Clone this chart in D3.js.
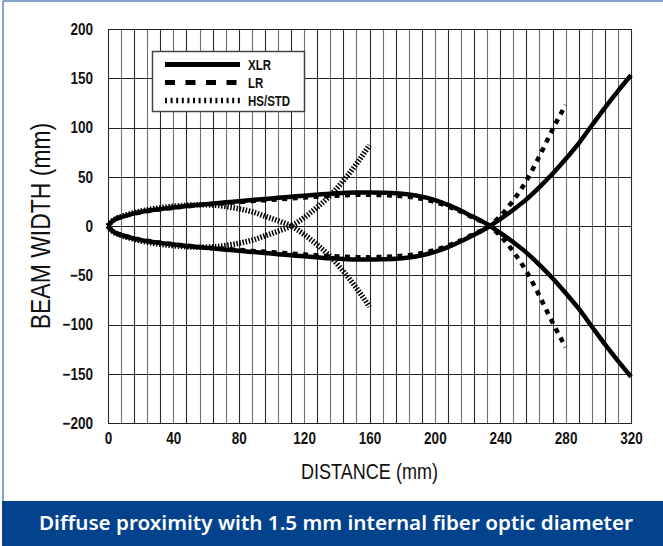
<!DOCTYPE html>
<html><head><meta charset="utf-8">
<script src="https://cdn.jsdelivr.net/npm/d3@7"></script>
<style>
html,body{margin:0;padding:0;background:#fff;}
svg{display:block;}
</style></head>
<body>
<svg id="chart" width="663" height="546"></svg>
<script>
// ---- data ----
const xlrX = [0,2,4,8,16,24,32,40,48,56,64,72,80,88,96,104,112,120,128,136,144,152,160,168,176,184,192,200,208,216,224,232,240,248,256,264,272,280,288,296,304,312,320];
const xlrY = [0,4,6.5,9,12.8,15.5,17.2,18.8,20.2,21.6,22.8,24,25.2,26.3,27.4,28.6,29.7,30.8,31.8,32.8,33.5,34,34,33.8,33.3,32,29.8,26.3,21.5,15.5,8.8,1.8,-7,-16.5,-27,-39.5,-53,-68,-84,-102,-120,-137,-153];
const lrX = [0,2,4,8,16,24,32,40,48,56,64,72,80,88,96,104,112,120,128,136,144,152,160,168,176,184,192,200,208,216,224,232,240,248,256,264,272,280];
const lrY = [0,4,6.5,9,12.5,15,17,18.5,20,21.2,22.3,23.3,24.3,25.3,26.2,27.1,28,29,29.8,30.6,31.2,31.6,31.7,31.4,30.8,29.6,27.6,24.5,20,14.5,8,1.5,-10,-26,-46,-71,-98,-123];
const hsX = [0,2,4,8,16,24,32,40,48,56,64,72,80,88,96,104,112,120,128,136,144,152,160];
const hsY = [0,4.2,6.8,9.5,13.5,16.5,18.5,20,21,21.5,21.3,19.8,17.5,14.5,10,5.3,0,-8.5,-19,-31,-46,-63,-82];
const xTicks = [0,40,80,120,160,200,240,280,320];
const yTicks = [200,150,100,50,0,-50,-100,-150,-200];
const seriesNames = ["XLR","LR","HS/STD"];
const xTitle = "DISTANCE (mm)";
const yTitle = "BEAM WIDTH (mm)";
const caption = "Diffuse proximity with 1.5 mm internal fiber optic diameter";

// ---- layout ----
const svg = d3.select("#chart");
const L = 108, R = 631, T = 29, B = 423;
const NX = 0.82; // horizontal condensing (Arial Narrow look)
const FONT = "'Liberation Sans', Arial, sans-serif";
const x = d3.scaleLinear().domain([0,320]).range([L,R]);
const y = d3.scaleLinear().domain([-200,200]).range([B,T]);

// frame
svg.append("line").attr("x1",3).attr("x2",663).attr("y1",1).attr("y2",1).attr("stroke","#5b84c2").attr("stroke-width",1.5);
svg.append("line").attr("x1",3).attr("x2",3).attr("y1",1).attr("y2",501).attr("stroke","#5b84c2").attr("stroke-width",1.5);

// grid
const g = svg.append("g");
const vgrid = d3.range(0,321,8);
g.selectAll(".vg").data(vgrid).join("line")
  .attr("x1",d=>Math.round(x(d))+0.5).attr("x2",d=>Math.round(x(d))+0.5)
  .attr("y1",T).attr("y2",B).attr("stroke",(d,i)=> (i%2? "#707070":"#2a2a2a")).attr("stroke-width",1.1);
g.selectAll(".hg").data(yTicks).join("line")
  .attr("x1",L).attr("x2",R+1).attr("y1",d=>Math.round(y(d))+0.5).attr("y2",d=>Math.round(y(d))+0.5)
  .attr("stroke","#222").attr("stroke-width",1.1);

function condense(sel){
  sel.each(function(){
    const t = d3.select(this);
    const xv = +(t.attr("x")||0);
    t.attr("x", xv/NX).attr("transform",`scale(${NX},1)`);
  });
}

// axes (labels only)
const yAxis = d3.axisLeft(y).tickValues(yTicks).tickSize(0).tickPadding(15);
const ya = svg.append("g").attr("transform",`translate(${L},0)`).call(yAxis);
ya.select(".domain").remove();
ya.attr("font-family",FONT).attr("font-size",16.5);
ya.selectAll("text").attr("font-weight","bold").attr("fill","#111").call(condense);

const xAxis = d3.axisBottom(x).tickValues(xTicks).tickSize(0).tickPadding(9);
const xa = svg.append("g").attr("transform",`translate(0,${B})`).call(xAxis);
xa.select(".domain").remove();
xa.attr("font-family",FONT).attr("font-size",16.5);
xa.selectAll("text").attr("font-weight","bold").attr("fill","#111").call(condense);

svg.append("text").attr("transform",`translate(${(L+R)/2},479) scale(${NX},1)`).attr("text-anchor","middle")
  .attr("font-family",FONT).attr("font-size",22).attr("fill","#111").text(xTitle);
svg.append("text").attr("transform",`translate(50,${(T+B)/2}) rotate(-90) scale(${NX},1)`).attr("text-anchor","middle")
  .attr("font-family",FONT).attr("font-size",28).attr("fill","#111").text(yTitle);

// curves
const line = d3.line().x(d=>x(d[0])).y(d=>y(d[1])).curve(d3.curveMonotoneX);
function pts(xs,ys,s){ return xs.map((v,i)=>[v, s*ys[i]]); }
const styles = [
  {xs:xlrX, ys:xlrY, w:4.5, dash:null},
  {xs:lrX, ys:lrY, w:4.5, dash:"5,5.5"},
  {xs:hsX, ys:hsY, w:5.5, dash:"1.5,1.6"}
];
const cg = svg.append("g").attr("fill","none").attr("stroke","#000");
[styles[2],styles[1],styles[0]].forEach(st=>{
  [1,-1].forEach(s=>{
    cg.append("path").attr("d",line(pts(st.xs,st.ys,s))).attr("stroke-width",st.w)
      .attr("stroke-dasharray",st.dash);
  });
});

// legend
const lg = svg.append("g");
lg.append("rect").attr("x",152.5).attr("y",51.5).attr("width",152).attr("height",60).attr("fill","#fff").attr("stroke","#444").attr("stroke-width",1.5);
const legDash = [null,"10,10.5","2,3.6"];
const legW = [5,5,5.5];
seriesNames.forEach((n,i)=>{
  const ly = 64.5 + i*18;
  lg.append("line").attr("x1",165).attr("x2",240).attr("y1",ly).attr("y2",ly).attr("stroke","#000")
    .attr("stroke-width",legW[i]).attr("stroke-dasharray",legDash[i]);
  lg.append("text").attr("transform",`translate(248,${ly+5}) scale(${NX},1)`).attr("font-family",FONT)
    .attr("font-size",14).attr("font-weight","bold").attr("fill","#111").text(n);
});

// caption bar
svg.append("rect").attr("x",2).attr("y",501).attr("width",661).attr("height",45).attr("fill","#03438e");
svg.append("text").attr("x",336).attr("y",530).attr("text-anchor","middle").attr("fill","#fff")
  .attr("font-family","'Noto Sans',sans-serif").attr("font-weight",600).attr("font-size",19)
  .attr("textLength",594).attr("lengthAdjust","spacingAndGlyphs").text(caption);
</script>
</body></html>
